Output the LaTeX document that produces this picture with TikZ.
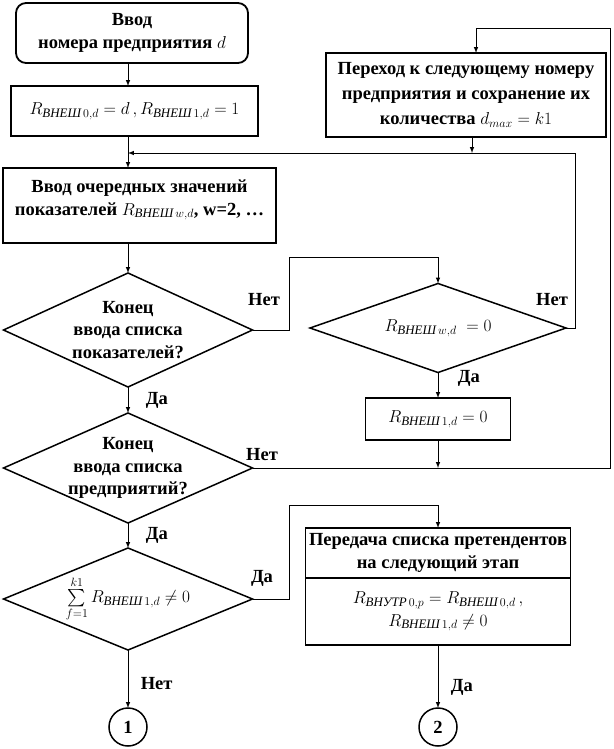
\documentclass[tikz,border=0pt]{standalone}
\usepackage{amsmath}
\usepackage{fontspec}
\setmainfont{Liberation Serif}
\usetikzlibrary{calc}
\usetikzlibrary{shapes.geometric}
\usetikzlibrary{positioning}
\newcommand{\chartfont}{\fontsize{18.5}{22.5}\selectfont}
\newcommand{\Rv}[1]{R_{\text{\normalfont\itshape ВНЕШ}\,#1}}
\tikzset{%
    block/.style={inner sep=2pt,outer sep=0pt,shape=rectangle,draw,line width=1.8pt,align=center,font=\chartfont\bfseries},
    term/.style={block,rounded corners=10pt},
    decision/.style={inner sep=-3pt,outer sep=0pt,shape=diamond,draw,line width=1.5pt,align=center,font=\chartfont\bfseries},
    joint/.style={inner sep=0pt,outer sep=0pt,shape=circle,draw,line width=1.5pt,minimum size=38pt,font=\chartfont\bfseries},
    flow/.style={->,>=latex,line width=1pt},
    answer/.style={font=\chartfont\bfseries},
}

\begin{document}
\begin{tikzpicture}[x=1pt,y=-1pt]
        \useasboundingbox (0,0) rectangle (613,749);
        \node [term,minimum width=232pt,minimum height=60pt] (start) at (132,33) {Ввод\\ номера предприятия $d$};
        \node [block,minimum width=247pt,minimum height=50pt,font=\chartfont] (init) at (134.5,111) {$\Rv{0,d}=d\,,\Rv{1,d}=1$};
        \node [block,minimum width=273pt,minimum height=75pt,text depth=16pt] (input) at (139.5,205.5) {Ввод очередных значений\\показателей $\Rv{w,d}$, w=2, \dots};
        \node [decision,aspect=2.18,minimum width=249pt,minimum height=114pt] (endpar) at (128,330) {Конец\\ввода списка\\показателей?};
        \node [decision,aspect=2.26,minimum width=249pt,minimum height=110pt] (endfirm) at (128,468) {Конец\\ввода списка\\предприятий?};
        \node [decision,aspect=2.44,inner sep=-6pt,minimum width=249pt,minimum height=102pt,font=\chartfont] (sumtest) at (128,599) {$\sum\limits_{f=1}^{k1}\Rv{1,d}\neq 0$};
        \node [joint] (out1) at (128,727) {1};

        \node [block,minimum width=280pt,minimum height=84pt,font=\fontsize{18.5}{25}\selectfont\bfseries] (nextfirm) at (466,95) {Переход к следующему номеру\\предприятия и сохранение их\\количества $d_{max}=k1$};
        \node [decision,aspect=2.88,minimum width=256pt,minimum height=89pt,font=\chartfont] (zerotest) at (438,328) {$\Rv{w,d}\;=0$};
        \node [block,minimum width=145pt,minimum height=42pt,font=\chartfont] (reset) at (438,419) {$\Rv{1,d}=0$};
        \node [block,minimum width=265pt,minimum height=50pt] (pass) at (438,553) {Передача списка претендентов\\на следующий этап};
        \node [block,minimum width=265pt,minimum height=67pt,font=\chartfont,below=0pt of pass] (passcond) {$R_{\text{\normalfont\itshape ВНУТР}\,0,p}=\Rv{0,d}\,,$\\$\Rv{1,d}\neq 0$};
        \node [joint] (out2) at (438,727) {2};

        \coordinate (loopin) at (128,153);
        \coordinate (merge) at (438,468);
        \coordinate (rim) at (610,29);

        \draw [flow] (start.south -| endpar) -- (init.north -| endpar);
        \draw [flow] (init.south -| endpar) -- (input.north -| endpar);
        \draw [flow] (input.south -| endpar) -- (endpar.north);
        \draw [flow] (endpar.south) -- (endfirm.north) node [answer,midway,right=14pt] {Да};
        \draw [flow] (endfirm.south) -- (sumtest.north) node [answer,midway,right=14pt] {Да};
        \draw [flow] (sumtest.south) -- (out1.north) node [answer,pos=0.57,right=9pt] {Нет};

        \draw [flow] (endpar.east) -- ++(37,0) -- ++(0,-73) -| (zerotest.north);
        \node [answer] (no1) at (264,300) {Нет};
        \draw [flow] (zerotest.east) -- ++(9,0) |- (loopin);
        \node [answer] (no2) at (552,300) {Нет};
        \draw [flow] ([xshift=6pt]nextfirm.south) -- ([xshift=6pt]nextfirm.south |- loopin);
        \draw [flow] (zerotest.south) -- (reset.north) node [answer,pos=0.25,right=16pt] {Да};
        \draw [flow] (reset.south) -- (merge);
        \draw [flow] (endfirm.east) -| (rim) -| ([xshift=10pt]nextfirm.north);
        \node [answer] (no3) at (262,455) {Нет};
        \draw [flow] (sumtest.east) -- ++(37,0) -- ++(0,-94) -| (pass.north);
        \node [answer] (yes1) at (262,578) {Да};
        \draw [flow] (passcond.south) -- (out2.north) node [answer,pos=0.68,right=9pt] {Да};
    \end{tikzpicture}
\end{document}
